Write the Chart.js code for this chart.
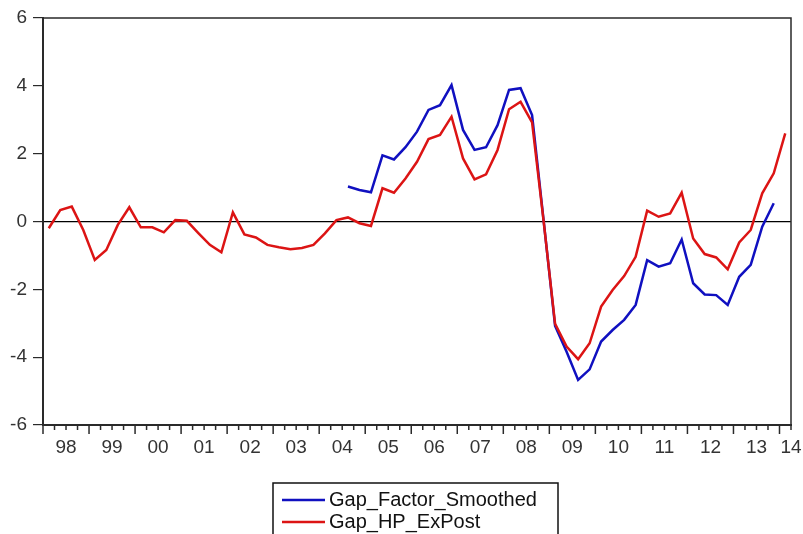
<!DOCTYPE html>
<html lang="en">
<head>
    <meta charset="UTF-8">
    <title>Output gap</title>
    <script src="https://cdn.jsdelivr.net/npm/chart.js"></script>
    <style>
        html, body { margin: 0; padding: 0; background: #fff; }
        #wrap { width: 803px; height: 534px; }
    </style>
</head>
<body>
    <div id="wrap"><canvas id="gapChart"></canvas></div>

    <script>
        // quarterly data, 1998Q1 .. 2014Q1
        const startYear = 1998;
        const yTicks = [-6, -4, -2, 0, 2, 4, 6];

        const gapHP = [
            -0.20, 0.34, 0.44, -0.25, -1.13, -0.84, -0.10, 0.42,
            -0.17, -0.17, -0.32, 0.04, 0.02, -0.34, -0.69, -0.91,
            0.27, -0.38, -0.47, -0.69, -0.76, -0.82, -0.78, -0.69,
            -0.35, 0.04, 0.12, -0.05, -0.13, 0.98, 0.85, 1.27,
            1.76, 2.43, 2.55, 3.09, 1.86, 1.24, 1.39, 2.11,
            3.31, 3.53, 2.92, 0.02, -3.02, -3.69, -4.06, -3.59,
            -2.51, -2.02, -1.61, -1.04, 0.32, 0.14, 0.24, 0.85,
            -0.50, -0.96, -1.06, -1.41, -0.62, -0.25, 0.83, 1.42,
            2.60
        ];

        const gapFactor = [
            null, null, null, null, null, null, null, null,
            null, null, null, null, null, null, null, null,
            null, null, null, null, null, null, null, null,
            null, null, 1.03, 0.93, 0.86, 1.95, 1.83, 2.19,
            2.65, 3.29, 3.43, 4.02, 2.70, 2.11, 2.19, 2.84,
            3.88, 3.93, 3.14, 0.04, -3.08, -3.84, -4.67, -4.36,
            -3.54, -3.20, -2.90, -2.46, -1.14, -1.33, -1.23, -0.53,
            -1.82, -2.15, -2.17, -2.46, -1.63, -1.28, -0.15, 0.54,
            null
        ];

        const seriesNames = ['Gap_Factor_Smoothed', 'Gap_HP_ExPost'];
        const seriesColors = ['#1010c0', '#dc1414'];

        // time position of each quarter (middle of the quarter)
        const quarters = gapHP.map((v, i) => startYear + i / 4 + 0.125);
        const xMax = startYear + gapHP.length / 4;

        const toPoints = arr => arr.map((v, i) => ({ x: quarters[i], y: v }));

        const FONT = "'Liberation Sans', Arial, sans-serif";

        // box, quarter ticks and legend like the EViews graph
        const evPlugin = {
            id: 'evFrame',
            afterDraw(chart) {
                const ctx = chart.ctx;
                const a = chart.chartArea;
                const xs = chart.scales.x;
                ctx.save();
                ctx.strokeStyle = '#2a2a2a';
                ctx.lineWidth = 1.5;
                ctx.beginPath();
                ctx.moveTo(a.left, a.top);
                ctx.lineTo(a.right, a.top);
                ctx.lineTo(a.right, a.bottom);
                ctx.stroke();

                ctx.lineWidth = 1.5;
                for (let k = 0; k <= gapHP.length; k++) {
                    const v = startYear + k / 4;
                    const px = xs.getPixelForValue(v);
                    const len = (k % 4 === 0) ? 9 : 5;
                    ctx.beginPath();
                    ctx.moveTo(px, a.bottom);
                    ctx.lineTo(px, a.bottom + len);
                    ctx.stroke();
                }

                // legend
                ctx.strokeStyle = '#111';
                ctx.lineWidth = 1.5;
                ctx.strokeRect(273, 483, 285, 70);
                ctx.font = '20px ' + FONT;
                ctx.textBaseline = 'middle';
                ctx.fillStyle = '#111';
                seriesNames.forEach((name, i) => {
                    const y = 500 + i * 22;
                    ctx.strokeStyle = seriesColors[i];
                    ctx.lineWidth = 2.5;
                    ctx.beginPath();
                    ctx.moveTo(282, y);
                    ctx.lineTo(325, y);
                    ctx.stroke();
                    ctx.fillText(name, 329, y);
                });
                ctx.restore();
            }
        };

        const chart = new Chart(document.getElementById('gapChart'), {
            type: 'line',
            data: {
                datasets: [
                    {
                        label: seriesNames[0],
                        data: toPoints(gapFactor),
                        borderColor: seriesColors[0],
                        borderWidth: 2.5,
                        pointRadius: 0,
                        tension: 0,
                        order: 1
                    },
                    {
                        label: seriesNames[1],
                        data: toPoints(gapHP),
                        borderColor: seriesColors[1],
                        borderWidth: 2.5,
                        pointRadius: 0,
                        tension: 0,
                        order: 0
                    }
                ]
            },
            options: {
                responsive: true,
                maintainAspectRatio: false,
                animation: false,
                layout: { padding: { top: 18, right: 12, left: 0, bottom: 0 } },
                plugins: {
                    legend: { display: false },
                    tooltip: { enabled: false }
                },
                scales: {
                    x: {
                        type: 'linear',
                        min: startYear,
                        max: xMax,
                        afterBuildTicks(scale) {
                            const t = [];
                            for (let k = 0; k <= gapHP.length; k++) t.push({ value: startYear + k / 4 });
                            scale.ticks = t;
                        },
                        afterFit(scale) {
                            scale.height = 109;
                            scale.paddingLeft = 0;
                            scale.paddingRight = 0;
                        },
                        grid: { display: false, drawTicks: false },
                        border: { display: true, color: '#2a2a2a', width: 2 },
                        ticks: {
                            autoSkip: false,
                            maxRotation: 0,
                            padding: 11,
                            color: '#333',
                            font: { family: FONT, size: 19 },
                            callback(value) {
                                const yr = Math.floor(value + 1e-9);
                                const frac = value - yr;
                                if (Math.abs(frac - 0.5) < 1e-6 || Math.abs(value - xMax) < 1e-6) {
                                    return String(yr % 100).padStart(2, '0');
                                }
                                return '';
                            }
                        }
                    },
                    y: {
                        min: -6,
                        max: 6,
                        afterBuildTicks(scale) {
                            scale.ticks = yTicks.map(v => ({ value: v }));
                        },
                        afterFit(scale) { scale.width = 43; },
                        grid: {
                            drawOnChartArea: true,
                            color: c => (c.tick && c.tick.value === 0) ? '#000' : 'rgba(0,0,0,0)',
                            tickColor: '#2a2a2a',
                            tickLength: 10,
                            lineWidth: 1.2
                        },
                        border: { display: true, color: '#2a2a2a', width: 2 },
                        ticks: {
                            padding: 6,
                            color: '#333',
                            font: { family: FONT, size: 19 }
                        }
                    }
                }
            },
            plugins: [evPlugin]
        });
    </script>
</body>
</html>
